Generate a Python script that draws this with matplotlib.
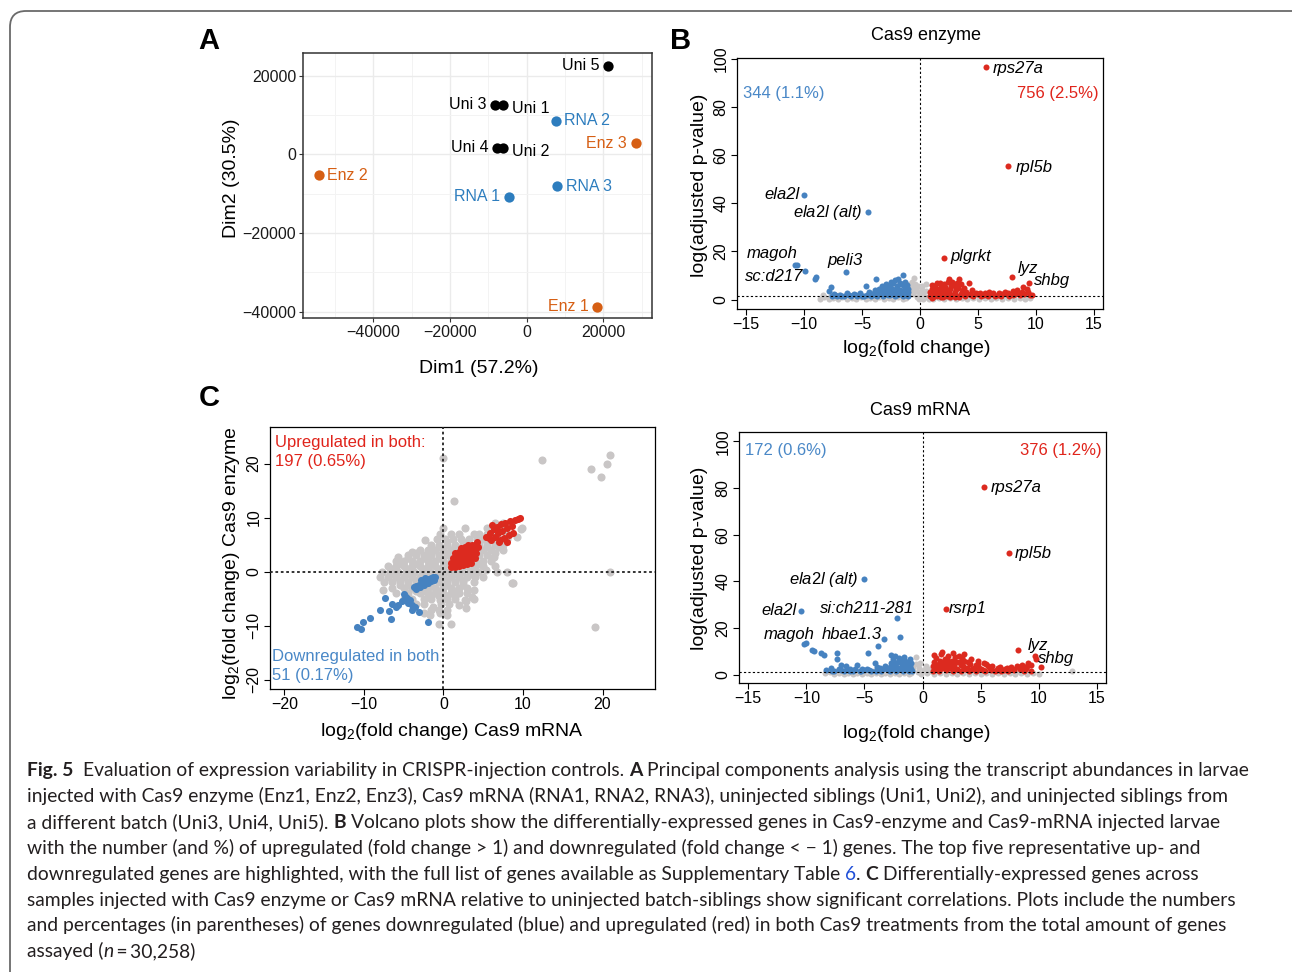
import numpy as np
import matplotlib.pyplot as plt
from matplotlib.patches import FancyBboxPatch
from matplotlib.transforms import IdentityTransform

plt.rcParams['font.family'] = ['Liberation Sans', 'DejaVu Sans']
plt.rcParams['mathtext.fontset'] = 'custom'
plt.rcParams['mathtext.rm'] = 'Liberation Sans'
plt.rcParams['mathtext.it'] = 'Liberation Sans:italic'
plt.rcParams['mathtext.default'] = 'regular'

W, H = 1292, 972

# ---------------- data ----------------
# A: PCA of samples
pca_labels = ['Uni 5', 'Uni 3', 'Uni 1', 'RNA 2', 'Enz 3', 'Uni 4', 'Uni 2',
              'Enz 2', 'RNA 3', 'RNA 1', 'Enz 1']
pca_dim1 = [21300, -8300, -6100, 7600, 28400, -7800, -6100, -54200, 8000, -4700, 18400]
pca_dim2 = [22500, 12600, 12600, 8500, 2800, 1700, 1700, -5300, -8100, -10800, -38700]
pca_group = ['uni', 'uni', 'uni', 'rna', 'enz', 'uni', 'uni', 'enz', 'rna', 'rna', 'enz']

# B: volcano, Cas9 enzyme (log2 fold change, log adjusted p)
enz_ns = [(-8.6, 0.4), (-8.3, 1.1), (-7.9, 0.2), (-7.5, 0.8), (-7.1, 0.3), (-6.7, 1.0),
          (-6.3, 0.2), (-5.9, 0.7), (-5.5, 0.3), (-5.1, 1.0), (-4.7, 0.2), (-4.3, 0.8),
          (-3.9, 0.3), (-3.5, 1.1), (-3.1, 0.2), (-2.7, 0.8), (-2.3, 0.3), (-1.9, 1.0),
          (-1.5, 0.2), (-1.2, 0.8), (-1.0, 1.8), (-0.9, 3.5), (-0.8, 5.5), (-0.7, 7.5),
          (-0.6, 2.5), (-0.5, 4.5), (-0.5, 9.0), (-0.4, 6.5), (-0.3, 1.2), (-0.3, 3.5),
          (-0.2, 5.5), (-0.1, 0.4), (0.0, 2.5), (0.1, 1.0), (0.2, 4.0), (0.3, 0.3),
          (0.3, 2.0), (0.5, 6.5), (0.5, 3.5), (0.6, 1.2), (0.8, 0.4), (1.1, 0.2),
          (1.6, 0.6), (2.1, 0.2), (2.6, 0.7), (3.1, 0.3), (3.6, 0.8), (4.1, 0.2),
          (4.6, 0.7), (5.1, 0.3), (5.6, 0.8), (6.1, 0.2), (6.6, 0.7), (7.1, 0.3),
          (7.6, 0.8), (8.1, 0.2), (8.6, 0.7), (9.1, 0.3), (9.5, 0.6),
          (-8.4, 1.8), (-7.7, 1.6), (-7.0, 1.9), (-6.4, 1.5), (-5.8, 1.8), (-5.2, 1.6),
          (-4.5, 1.7), (-3.8, 1.5), (-3.2, 1.8), (-2.5, 1.6), (-1.7, 1.7), (1.3, 1.5),
          (2.0, 1.8), (2.8, 1.6), (3.5, 1.7), (4.3, 1.5), (5.0, 1.8), (5.7, 1.6), (6.4, 1.7),
          (7.2, 1.5), (7.9, 1.8), (8.7, 1.6), (9.3, 1.5), (-0.9, 6.5), (0.2, 5.5)]
enz_down = [(-1.0, 1.5), (-1.0, 3.0), (-1.0, 4.5), (-1.1, 6.0), (-1.2, 2.2), (-1.3, 7.5),
            (-1.3, 5.2), (-1.4, 3.5), (-1.5, 10.1), (-1.5, 1.6), (-1.6, 6.5), (-1.7, 4.2),
            (-1.8, 2.5), (-1.9, 8.5), (-2.0, 5.5), (-2.1, 3.2), (-2.2, 1.7), (-2.2, 8.0),
            (-2.3, 6.8), (-2.4, 4.5), (-2.5, 2.6), (-2.6, 5.8), (-2.7, 3.7), (-2.8, 1.8),
            (-2.9, 6.5), (-3.0, 4.8), (-3.1, 2.9), (-3.2, 1.6), (-3.3, 5.5), (-3.4, 3.6),
            (-3.6, 2.2), (-3.8, 8.7), (-3.9, 4.2), (-4.0, 2.6), (-4.2, 1.6), (-4.4, 3.3),
            (-4.6, 2.1), (-4.7, 5.7), (-5.0, 1.7), (-5.2, 2.8), (-5.4, 1.5), (-5.7, 2.2),
            (-6.0, 1.6), (-6.3, 2.6), (-6.6, 1.5), (-6.9, 2.0), (-7.2, 1.6), (-7.4, 2.5),
            (-7.6, 1.5), (-7.7, 5.3), (-7.9, 3.5), (-9.0, 9.2), (-9.1, 8.7), (-9.9, 11.9),
            (-10.6, 14.3), (-10.8, 14.5), (-6.4, 11.5), (-10.0, 43.5), (-4.5, 36.2),
            (-1.1, 1.9), (-1.2, 4.0), (-1.4, 5.8), (-1.5, 2.9), (-1.7, 7.0), (-1.8, 3.6),
            (-2.0, 2.1), (-2.1, 4.6), (-2.3, 3.0), (-2.5, 7.5), (-2.6, 1.9), (-2.7, 4.6),
            (-2.9, 2.6), (-3.1, 3.8), (-3.3, 2.2), (-3.5, 4.6), (-3.7, 1.7), (-4.8, 1.6),
            (-5.5, 2.0), (-6.1, 2.1), (-6.8, 1.7), (-7.3, 2.0), (-3.9, 2.0), (-4.3, 2.2)]
enz_up = [(0.9, 1.5), (0.9, 3.0), (1.0, 4.5), (1.0, 6.0), (1.2, 2.2), (1.3, 3.8), (1.3, 5.3),
          (1.5, 1.4), (1.5, 7.0), (1.6, 3.0), (1.7, 4.6), (1.8, 6.2), (1.9, 2.0), (2.0, 3.6),
          (2.1, 17.2), (2.2, 5.3), (2.3, 1.5), (2.4, 7.2), (2.5, 2.8), (2.5, 8.7), (2.6, 4.3),
          (2.8, 1.8), (2.9, 6.0), (3.0, 3.3), (3.2, 1.5), (3.3, 5.0), (3.4, 8.7), (3.5, 2.4),
          (3.7, 3.8), (3.9, 1.6), (4.2, 6.7), (4.3, 2.5), (4.5, 4.0), (4.6, 1.5), (5.0, 2.2),
          (5.3, 1.6), (5.6, 2.8), (5.9, 1.7), (6.0, 3.2), (6.2, 2.3), (6.5, 1.6), (6.8, 2.7),
          (7.0, 1.7), (7.3, 3.2), (7.5, 2.2), (7.7, 1.6), (7.9, 9.2), (8.0, 3.5), (8.2, 2.4),
          (8.4, 4.2), (8.6, 1.8), (8.8, 3.0), (8.9, 5.3), (9.2, 4.5), (9.4, 6.9), (9.5, 1.8),
          (9.7, 1.9), (5.73, 96.5), (7.64, 55.5), (1.1, 1.0), (2.0, 1.0), (3.0, 1.0),
          (1.0, 0.8), (1.4, 2.6), (1.8, 1.2), (2.2, 2.4), (2.6, 1.1), (3.0, 2.0), (3.4, 1.2),
          (3.6, 3.0), (1.1, 3.7), (1.5, 4.4), (1.9, 5.0), (2.3, 3.5), (2.7, 5.5), (3.1, 4.4),
          (3.5, 6.3), (1.2, 5.8), (1.7, 6.8), (2.1, 6.5), (2.8, 7.5), (3.2, 6.7), (3.8, 4.8),
          (4.0, 3.0), (4.4, 1.9), (4.8, 2.9), (5.2, 2.6), (5.5, 1.9), (5.8, 2.4), (6.3, 2.8),
          (6.7, 1.9), (7.1, 2.4), (7.6, 2.7), (8.0, 2.0), (8.5, 2.8), (9.0, 2.2), (9.3, 3.2)]

# B (lower): volcano, Cas9 mRNA
mrna_ns = [(-8.4, 0.5), (-8.0, 1.0), (-7.6, 0.2), (-7.2, 0.8), (-6.8, 0.3), (-6.4, 0.9),
           (-6.0, 0.2), (-5.6, 0.7), (-5.2, 0.3), (-4.8, 0.9), (-4.4, 0.2), (-4.0, 0.8),
           (-3.6, 0.3), (-3.2, 0.9), (-2.8, 0.2), (-2.4, 0.8), (-2.0, 0.3), (-1.6, 0.9),
           (-1.2, 0.2), (-0.9, 1.5), (-0.8, 3.0), (-0.6, 7.4), (-0.6, 4.5), (-0.4, 1.0),
           (-0.3, 2.8), (-0.1, 0.3), (0.1, 1.8), (0.3, 3.5), (0.4, 0.6), (0.7, 1.4),
           (1.0, 0.2), (1.5, 0.7), (2.0, 0.2), (2.5, 0.8), (3.0, 0.3), (3.5, 0.8), (4.0, 0.2),
           (4.5, 0.7), (5.0, 0.3), (5.5, 0.8), (6.0, 0.2), (6.5, 0.7), (7.0, 0.3), (7.5, 0.8),
           (8.0, 0.2), (8.5, 0.7), (9.0, 0.3), (9.5, 0.7), (10.0, 0.3), (12.9, 1.7),
           (-8.2, 1.6), (-7.4, 1.5), (-6.6, 1.7), (-5.8, 1.5), (-5.0, 1.6), (-4.2, 1.4),
           (-3.4, 1.7), (-2.6, 1.5), (-1.8, 1.6), (1.2, 1.5), (2.2, 1.6), (3.2, 1.4),
           (4.2, 1.6), (5.2, 1.5), (6.2, 1.6), (7.2, 1.4), (8.2, 1.6), (9.2, 1.5),
           (-0.2, 5.0), (0.5, 2.5), (-1.0, 0.5)]
mrna_down = [(-10.0, 13.7), (-10.2, 13.2), (-9.5, 10.7), (-9.3, 10.0), (-8.7, 9.3), (-8.5, 8.6),
             (-7.4, 9.3), (-7.4, 6.5), (-7.9, 2.8), (-7.0, 4.3), (-6.6, 3.6), (-6.2, 2.5),
             (-5.6, 4.3), (-5.2, 2.2), (-4.7, 9.3), (-4.1, 5.0), (-4.6, 2.0), (-3.9, 3.2),
             (-3.3, 15.3), (-3.8, 12.4), (-1.9, 16.1), (-2.2, 24.2), (-2.75, 8.3),
             (-10.45, 27.1), (-5.05, 40.9), (-8.3, 1.8), (-7.6, 1.5), (-7.2, 2.2), (-6.8, 1.6),
             (-6.4, 1.9), (-6.0, 1.5), (-5.8, 2.6), (-5.4, 1.6), (-5.0, 1.9), (-4.4, 1.5),
             (-3.6, 1.7), (-3.4, 2.4), (-2.8, 1.6), (-2.8, 3.2), (-2.7, 5.0), (-2.6, 2.3),
             (-2.5, 6.5), (-2.4, 4.0), (-2.3, 1.5), (-2.2, 3.0), (-2.1, 5.6), (-2.0, 7.0),
             (-1.9, 2.2), (-1.8, 4.4), (-1.7, 1.5), (-1.6, 3.4), (-1.5, 6.0), (-1.4, 2.5),
             (-1.3, 4.8), (-1.2, 1.6), (-1.1, 3.5), (-1.0, 2.2), (-0.9, 1.5), (-1.0, 5.0),
             (-2.4, 8.0), (-1.6, 7.5), (-1.2, 3.0), (-1.4, 4.0), (-1.7, 5.5), (-2.0, 2.8),
             (-2.3, 5.0), (-2.6, 3.8), (-1.1, 6.5), (-1.9, 6.3), (-3.0, 2.0), (-3.2, 3.5),
             (-4.0, 1.6), (-4.8, 2.6), (-5.3, 1.6), (-6.2, 1.5), (-7.0, 1.8), (-7.8, 1.6),
             (-3.7, 2.8)]
mrna_up = [(5.3, 80.5), (7.45, 52.0), (2.0, 28.2), (8.2, 10.7), (9.65, 7.8), (9.75, 6.8),
           (10.2, 3.1), (9.3, 1.6), (8.7, 1.5), (0.9, 1.5), (0.9, 3.5), (1.0, 5.5), (1.1, 2.5),
           (1.2, 7.0), (1.3, 4.2), (1.4, 1.6), (1.5, 5.8), (1.6, 9.0), (1.7, 3.0), (1.7, 9.9),
           (1.9, 6.5), (2.0, 1.8), (2.1, 4.5), (2.2, 8.0), (2.3, 2.8), (2.5, 6.0), (2.6, 1.6),
           (2.6, 9.3), (2.7, 4.0), (2.8, 7.5), (3.0, 2.5), (3.1, 5.5), (3.3, 1.6), (3.4, 7.0),
           (3.6, 8.8), (3.5, 3.8), (3.7, 2.2), (3.9, 5.2), (4.0, 1.5), (4.2, 6.5), (4.4, 3.0),
           (4.6, 1.7), (4.8, 5.9), (4.8, 4.5), (5.0, 2.3), (5.3, 5.0), (5.4, 1.5), (5.6, 3.5),
           (5.9, 2.0), (6.2, 1.6), (6.5, 2.8), (6.8, 1.7), (7.1, 2.5), (7.4, 1.6), (7.6, 3.2),
           (7.9, 2.0), (8.1, 3.8), (8.4, 2.6), (8.6, 4.2), (8.9, 3.0), (9.1, 5.0), (9.3, 4.0),
           (1.0, 8.5), (1.1, 4.5), (1.3, 2.2), (1.5, 3.5), (1.8, 5.0), (1.9, 2.8), (2.2, 6.0),
           (2.4, 4.8), (2.6, 3.2), (2.9, 5.5), (3.1, 7.8), (3.3, 4.2), (3.6, 5.8), (3.8, 3.0),
           (4.1, 4.6), (4.3, 2.2), (4.6, 4.0), (4.9, 3.0), (5.2, 2.0), (5.5, 4.4), (5.8, 2.8),
           (6.0, 3.8), (6.4, 2.0), (6.7, 3.3), (7.0, 2.0), (7.3, 3.0), (7.8, 2.6), (8.3, 3.3),
           (8.8, 2.3), (9.0, 3.7)]

# C: log2 fold change, mRNA (x) vs enzyme (y)
both_ns = [(6.5, 9.0), (7.5, 9.0), (8.5, 9.0), (0.0, 8.0), (2.7, 8.0), (5.5, 8.0), (6.5, 8.0),
           (7.5, 8.0), (9.9, 8.0), (-0.4, 7.0), (1.0, 7.0), (2.0, 7.0), (3.8, 7.0), (4.5, 7.0),
           (5.5, 7.0), (8.0, 7.0), (9.2, 6.5), (-2.3, 5.8), (-0.8, 6.0), (0.2, 6.0), (1.2, 6.0),
           (2.2, 6.0), (3.2, 6.0), (4.2, 6.0), (5.0, 6.0), (7.0, 6.0), (8.0, 6.0), (-1.5, 5.0),
           (-0.5, 5.0), (0.5, 5.0), (1.5, 5.0), (2.5, 5.0), (3.5, 5.0), (4.5, 5.0), (5.5, 5.0),
           (6.5, 5.0), (7.5, 5.0), (-4.0, 3.7), (-3.0, 4.0), (-1.9, 4.0), (-1.0, 4.0), (0.0, 4.0),
           (1.0, 4.0), (2.0, 4.0), (3.0, 4.0), (4.0, 4.0), (5.0, 4.0), (6.0, 4.0), (7.5, 4.0),
           (-5.7, 2.8), (-4.5, 3.0), (-3.5, 3.0), (-2.5, 3.0), (-1.5, 3.0), (-0.5, 3.0),
           (0.5, 3.0), (1.5, 3.0), (2.5, 3.0), (3.5, 3.0), (4.5, 3.0), (5.5, 3.0), (6.3, 2.8),
           (-6.0, 2.0), (-5.0, 2.0), (-4.0, 2.0), (-3.0, 2.0), (-2.0, 2.0), (-1.0, 2.0),
           (0.0, 2.0), (1.0, 2.0), (2.0, 2.0), (3.0, 2.0), (4.0, 2.0), (5.0, 2.0), (6.0, 2.0),
           (-7.0, 1.0), (-6.0, 1.0), (-5.0, 1.0), (-4.0, 1.0), (-3.0, 1.0), (-2.0, 1.0),
           (-1.0, 1.0), (0.0, 1.0), (1.0, 1.0), (2.0, 1.0), (3.0, 1.0), (4.0, 1.0), (5.0, 1.0),
           (6.5, 1.0), (-7.7, 0.0), (-6.7, 0.0), (-5.7, 0.0), (-4.7, 0.0), (-3.7, 0.0),
           (-2.7, 0.0), (-1.7, 0.0), (-0.7, 0.0), (0.3, 0.0), (1.3, 0.0), (2.3, 0.0), (3.3, 0.0),
           (4.3, 0.0), (5.4, 0.3), (6.7, 0.0), (8.0, 0.0), (-8.0, -0.9), (-7.0, -1.0),
           (-6.0, -1.0), (-5.0, -1.0), (-4.0, -1.0), (-3.0, -1.0), (-2.0, -1.0), (-1.0, -1.0),
           (0.0, -1.0), (1.0, -1.0), (2.0, -1.0), (3.0, -1.0), (4.0, -1.0), (5.0, -1.0),
           (-7.5, -2.0), (-6.5, -2.0), (-5.5, -2.0), (-4.5, -2.0), (-3.5, -2.0), (-2.5, -2.0),
           (-1.5, -2.0), (-0.5, -2.0), (0.5, -2.0), (1.5, -2.0), (2.5, -2.0), (3.8, -2.0),
           (8.6, -2.1), (-7.6, -3.4), (-6.5, -3.0), (-5.0, -3.0), (-4.0, -3.0), (-3.0, -3.0),
           (-2.0, -3.0), (-1.0, -3.0), (0.0, -3.0), (1.0, -3.0), (2.0, -3.0), (3.0, -3.0),
           (3.8, -3.4), (-5.9, -4.0), (-4.5, -4.0), (-3.0, -4.0), (-2.0, -4.0), (-1.0, -4.0),
           (0.0, -4.0), (1.0, -4.0), (2.0, -4.0), (3.0, -4.0), (3.6, -4.6), (-5.0, -5.0),
           (-4.0, -5.0), (-2.5, -5.0), (-1.5, -5.0), (-0.4, -5.2), (0.5, -5.0), (1.5, -5.0),
           (2.7, -5.2), (3.8, -5.0), (-3.5, -6.0), (-2.5, -6.0), (-1.3, -6.5), (-0.3, -6.0),
           (0.7, -6.0), (1.9, -6.2), (2.8, -5.5), (-2.5, -7.7), (-1.5, -7.0), (-0.5, -7.0),
           (0.5, -7.0), (2.9, -6.8), (-1.7, -8.0), (-0.4, -7.7), (0.5, -8.0), (-0.6, -9.7),
           (1.0, -9.7), (1.3, 13.1), (-0.1, 21.0), (12.4, 20.6), (21.0, 21.5), (20.6, 20.0),
           (18.5, 18.9), (19.8, 17.5), (20.9, 0.0), (8.7, -2.1), (19.0, -10.3), (9.8, 7.9),
           (-6.5, 0.5), (-5.5, 1.5), (-4.5, 0.5), (-3.5, 1.5), (-2.5, 0.5), (-1.5, 1.5),
           (-0.5, 0.5), (0.5, 1.5), (1.5, 0.5), (2.5, 1.5), (3.5, 0.5), (4.5, 1.5),
           (-6.5, -0.5), (-5.5, -1.5), (-4.5, -0.5), (-3.5, -1.5), (-2.5, -0.5), (-1.5, -1.5),
           (-0.5, -0.5), (0.5, -1.5), (1.5, -0.5), (2.5, -1.5), (3.5, -0.5), (-5.5, -2.5),
           (-4.5, -2.5), (-3.5, -3.5), (-2.5, -3.5), (-1.5, -2.5), (-0.5, -3.5), (0.5, -2.5),
           (1.5, -3.5), (2.5, -2.5), (-1.5, -4.5), (-0.5, -4.5), (0.5, -4.5), (1.5, -4.5),
           (-4.5, 2.5), (-3.5, 3.5), (-2.5, 2.5), (-1.5, 3.5), (-0.5, 2.5), (0.5, 3.5),
           (-0.5, 4.5), (0.5, 5.5), (1.5, 4.5), (2.5, 5.5), (3.5, 4.5), (4.5, 5.5), (5.5, 4.5),
           (6.5, 5.5), (6.5, 7.0), (7.0, 7.5), (5.5, 6.0), (6.5, 3.5), (7.0, 4.5)]
both_up = [(1.0, 0.9), (1.5, 0.9), (2.0, 1.0), (2.5, 1.2), (3.0, 1.4), (3.5, 1.6), (1.0, 1.6),
           (1.5, 1.7), (2.0, 1.9), (2.5, 2.1), (3.0, 2.3), (3.5, 2.5), (4.0, 2.6), (1.2, 2.5),
           (1.7, 2.7), (2.2, 2.9), (2.7, 3.1), (3.2, 3.3), (3.7, 3.5), (4.1, 3.4), (1.5, 3.4),
           (2.0, 3.6), (2.5, 3.8), (3.0, 4.0), (3.4, 4.3), (2.2, 4.3), (2.7, 4.6), (3.1, 4.9),
           (3.6, 5.0), (4.2, 5.5), (4.4, 4.6), (4.0, 4.2), (5.4, 6.5), (5.8, 7.2), (6.0, 5.8),
           (6.3, 7.8), (6.5, 6.5), (6.7, 8.3), (6.9, 7.2), (7.1, 5.8), (7.2, 8.8), (7.4, 7.5),
           (7.6, 6.3), (7.8, 9.0), (8.0, 8.0), (8.2, 6.8), (8.4, 9.3), (8.6, 8.4), (8.8, 7.2),
           (9.0, 9.5), (9.4, 9.8), (9.6, 9.9), (6.1, 8.6), (5.7, 6.2), (8.0, 5.5), (7.0, 5.5)]
both_down = [(-1.0, -0.9), (-1.3, -1.0), (-1.6, -1.2), (-1.9, -1.4), (-2.2, -1.6), (-2.5, -1.9),
             (-2.8, -2.2), (-3.1, -2.4), (-3.4, -2.7), (-3.7, -2.9), (-1.5, -1.7), (-2.0, -2.1),
             (-2.5, -2.5), (-3.0, -2.9), (-3.5, -3.2), (-1.2, -1.5), (-2.3, -1.2), (-2.8, -1.5),
             (-4.9, -4.2), (-4.6, -4.8), (-4.2, -5.2), (-4.5, -5.8), (-4.0, -6.2), (-4.0, -7.1),
             (-3.6, -6.5), (-4.8, -4.5), (-5.7, -6.2), (-6.5, -5.9), (-7.3, -4.9), (-8.0, -7.1),
             (-6.6, -8.8), (-3.1, -7.4), (-2.0, -9.4), (-9.2, -8.6), (-10.1, -9.4),
             (-10.9, -10.3), (-10.3, -10.6), (-6.0, -6.6), (-6.8, -7.2), (-5.2, -5.5)]

caption = [
    [('Fig. 5', 'b'), ('Evaluation of expression variability in CRISPR-injection controls.', 'r'),
     ('A', 'b'), ('Principal components analysis using the transcript abundances in larvae', 'r')],
    [('injected with Cas9 enzyme (Enz1, Enz2, Enz3), Cas9 mRNA (RNA1, RNA2, RNA3), uninjected '
      'siblings (Uni1, Uni2), and uninjected siblings from', 'r')],
    [('a different batch (Uni3, Uni4, Uni5).', 'r'), ('B', 'b'),
     ('Volcano plots show the differentially-expressed genes in Cas9-enzyme and Cas9-mRNA '
      'injected larvae', 'r')],
    [('with the number (and %) of upregulated (fold change > 1) and downregulated '
      '(fold change < \u2212 1) genes. The top five representative up- and', 'r')],
    [('downregulated genes are highlighted, with the full list of genes available as '
      'Supplementary Table', 'r'), ('6', 'link'), ('.', 'r0'), ('C', 'b'),
     ('Differentially-expressed genes across', 'r')],
    [('samples injected with Cas9 enzyme or Cas9 mRNA relative to uninjected batch-siblings '
      'show significant correlations. Plots include the numbers', 'r')],
    [('and percentages (in parentheses) of genes downregulated (blue) and upregulated (red) '
      'in both Cas9 treatments from the total amount of genes', 'r')],
    [('assayed (', 'r'), ('n', 'i'), ('\u2009=\u200930,258)', 'r0')],
]

# ---------------- figure ----------------
BLUE = '#4682c0'
RED = '#dc2a1f'
GREY = '#c9c6c6'


def rect(l, t, r, b):
    return [l / W, 1 - b / H, (r - l) / W, (b - t) / H]


def fx(x):
    return x / W


def fy(y):
    return 1 - y / H


fig = plt.figure(figsize=(W / 100, H / 100), dpi=100)

frame = FancyBboxPatch((10, -40), 1300, 961 + 40, boxstyle='round,pad=0,rounding_size=16',
                       transform=IdentityTransform(), fill=False, edgecolor='#6a6a6a', lw=1.3)
fig.add_artist(frame)

# ---- A ----
axA = fig.add_axes(rect(303, 53, 652, 318))
axA.set_xlim(-58300, 32700)
axA.set_ylim(-41600, 25750)
axA.set_xticks([-40000, -20000, 0, 20000])
axA.set_xticks([-50000, -30000, -10000, 10000, 30000], minor=True)
axA.set_yticks([-40000, -20000, 0, 20000])
axA.set_yticks([-30000, -10000, 10000], minor=True)
axA.grid(which='major', color='#ebebeb', lw=1.0)
axA.grid(which='minor', color='#f3f3f3', lw=0.7)
axA.set_axisbelow(True)
for s in axA.spines.values():
    s.set_color('#333333')
    s.set_linewidth(1.1)
axA.tick_params(which='major', length=3, color='#333333', labelsize=11.5, labelcolor='#1a1a1a', pad=2)
axA.tick_params(which='minor', length=0)
group_col = {'uni': 'black', 'rna': '#2d7dbe', 'enz': '#d65f14'}
left_side = {'Uni 5', 'Uni 3', 'Enz 3', 'Uni 4', 'RNA 1', 'Enz 1'}
for lab, x, y, g in zip(pca_labels, pca_dim1, pca_dim2, pca_group):
    axA.scatter(x, y, s=55, color=group_col[g], zorder=3, lw=0)
    dy = -3 if lab in ('Uni 1', 'Uni 2') else 0
    if lab in left_side:
        axA.annotate(lab, (x, y), xytext=(-6, dy), textcoords='offset points', ha='right',
                     va='center', fontsize=11.5, color=group_col[g])
    else:
        axA.annotate(lab, (x, y), xytext=(6, dy), textcoords='offset points', ha='left',
                     va='center', fontsize=11.5, color=group_col[g])
fig.text(fx(479), fy(368), 'Dim1 (57.2%)', ha='center', va='center', fontsize=14)
fig.text(fx(231), fy(178), 'Dim2 (30.5%)', ha='center', va='center', fontsize=14, rotation=90)


def base_axes(ax):
    for s in ax.spines.values():
        s.set_color('black')
        s.set_linewidth(0.9)
    ax.tick_params(length=4, width=0.8, labelsize=11.5, pad=2)
    for t in ax.get_yticklabels():
        t.set_rotation(90)
        t.set_va('center')


def volcano(ax, ns, down, up, ylim, counts, count_y, labels):
    ax.set_xlim(-15.8, 15.8)
    ax.set_ylim(*ylim)
    ax.set_xticks([-15, -10, -5, 0, 5, 10, 15])
    ax.set_yticks([0, 20, 40, 60, 80, 100])
    for pts, col in ((ns, GREY), (down, BLUE), (up, RED)):
        a = np.array(pts)
        ax.scatter(a[:, 0], a[:, 1], s=19, color=col, lw=0, zorder=2)
    ax.axvline(0, color='black', lw=0.8, ls=(0, (2, 2)), zorder=1)
    ax.axhline(1.3, color='black', lw=0.8, ls=(0, (2, 2)), zorder=3)
    ax.text(-15.3, count_y, counts[0], color='#4a88c7', fontsize=12, ha='left', va='center')
    ax.text(15.4, count_y, counts[1], color='#e0241b', fontsize=12, ha='right', va='center')
    for txt, x, y, ha in labels:
        ax.text(x, y, txt, ha=ha, va='center', fontsize=12, style='italic')
    base_axes(ax)


# ---- B: Cas9 enzyme ----
axB = fig.add_axes(rect(737, 58, 1103, 309))
volcano(axB, enz_ns, enz_down, enz_up, (-3.9, 100.4), ('344 (1.1%)', '756 (2.5%)'), 85.5,
        [('rps27a', 6.3, 96.0, 'left'), ('rpl5b', 8.3, 55.0, 'left'),
         ('ela2l', -10.4, 43.8, 'right'), (r'$\mathit{ela2l}$ (alt)', -5.0, 36.0, 'right'),
         ('magoh', -10.6, 19.2, 'right'), ('sc:d217', -10.1, 9.4, 'right'),
         ('peli3', -6.5, 16.1, 'center'), ('plgrkt', 2.6, 17.8, 'left'),
         ('lyz', 8.45, 12.9, 'left'), ('shbg', 9.85, 8.0, 'left')])
fig.text(fx(926), fy(35), 'Cas9 enzyme', ha='center', va='center', fontsize=13)
fig.text(fx(916), fy(348), r'log$_2$(fold change)', ha='center', va='center', fontsize=14)
fig.text(fx(699), fy(185), 'log(adjusted p-value)', ha='center', va='center', fontsize=14,
         rotation=90)

# ---- B lower: Cas9 mRNA ----
axD = fig.add_axes(rect(739, 432, 1106, 683))
volcano(axD, mrna_ns, mrna_down, mrna_up, (-3.6, 104), ('172 (0.6%)', '376 (1.2%)'), 96,
        [('rps27a', 5.9, 80.2, 'left'), ('rpl5b', 7.9, 52.0, 'left'),
         (r'$\mathit{ela2l}$ (alt)', -5.5, 40.6, 'right'), ('ela2l', -10.8, 27.5, 'right'),
         ('si:ch211-281', -8.8, 28.5, 'left'), ('magoh', -9.3, 17.1, 'right'),
         ('hbae1.3', -8.7, 17.0, 'left'), ('rsrp1', 2.3, 28.5, 'left'),
         ('lyz', 9.1, 12.4, 'left'), ('shbg', 9.95, 7.1, 'left')])
fig.text(fx(920), fy(410), 'Cas9 mRNA', ha='center', va='center', fontsize=13)
fig.text(fx(916), fy(734), r'log$_2$(fold change)', ha='center', va='center', fontsize=14)
fig.text(fx(699), fy(558), 'log(adjusted p-value)', ha='center', va='center', fontsize=14,
         rotation=90)

# ---- C ----
axC = fig.add_axes(rect(270, 427, 655, 689))
axC.set_xlim(-21.8, 26.6)
axC.set_ylim(-21.7, 26.75)
axC.set_xticks([-20, -10, 0, 10, 20])
axC.set_yticks([-20, -10, 0, 10, 20])
for pts, col, sz in ((both_ns, GREY, 34), (both_down, BLUE, 26), (both_up, RED, 26)):
    a = np.array(pts)
    axC.scatter(a[:, 0], a[:, 1], s=sz, color=col, lw=0, zorder=2)
axC.axvline(0, color='#222222', lw=1.3, ls=(0, (1.5, 1.5)), zorder=3)
axC.axhline(0, color='#222222', lw=1.3, ls=(0, (1.5, 1.5)), zorder=3)
axC.text(-21.2, 23.9, 'Upregulated in both:', color='#e0241b', fontsize=12, va='center')
axC.text(-21.2, 20.3, '197 (0.65%)', color='#e0241b', fontsize=12, va='center')
axC.text(-21.6, -15.7, 'Downregulated in both', color='#4a88c7', fontsize=12, va='center')
axC.text(-21.6, -19.2, '51 (0.17%)', color='#4a88c7', fontsize=12, va='center')
base_axes(axC)
fig.text(fx(452), fy(731), r'log$_2$(fold change) Cas9 mRNA', ha='center', va='center',
         fontsize=14)
fig.text(fx(232), fy(563), r'log$_2$(fold change) Cas9 enzyme', ha='center', va='center',
         fontsize=14, rotation=90)

# panel letters
for letter, x, y in (('A', 209, 41), ('B', 681, 41), ('C', 209, 398)):
    fig.text(fx(x), fy(y), letter, ha='center', va='center', fontsize=21, weight='bold')

# ---- caption ----
cap_font = ['Lato', 'DejaVu Sans']
renderer = fig.canvas.get_renderer()


def cap_kw(kind, size):
    kw = dict(fontsize=size, family=cap_font, color='#231f20', ha='left', va='baseline')
    if kind == 'b':
        kw['weight'] = 'bold'
    elif kind == 'i':
        kw['style'] = 'italic'
    elif kind == 'link':
        kw['color'] = '#1f4fd8'
    return kw


def width_of(txt, kw):
    t = fig.text(0, 0, txt, **kw)
    w = t.get_window_extent(renderer).width
    t.remove()
    return w


def gap_before(k, i, kind, sp):
    if i == 0 or kind in ('r0', 'i'):
        return 0
    return sp * (2 if (k == 0 and i == 1) else 1)


def line_width(k, parts, size):
    sp = width_of('x x', cap_kw('r', size)) - width_of('xx', cap_kw('r', size))
    total = 0
    for i, (txt, kind) in enumerate(parts):
        total += gap_before(k, i, kind, sp)
        total += width_of(txt, cap_kw('r' if kind == 'r0' else kind, size))
    return total


cap_size = 10 * 1226 / line_width(0, caption[0], 10)
sp = width_of('x x', cap_kw('r', cap_size)) - width_of('xx', cap_kw('r', cap_size))

for k, parts in enumerate(caption):
    yb = 776 + k * 25.9
    x = 27
    for i, (txt, kind) in enumerate(parts):
        x += gap_before(k, i, kind, sp)
        t = fig.text(fx(x), fy(yb), txt, **cap_kw('r' if kind == 'r0' else kind, cap_size))
        x += t.get_window_extent(renderer).width

fig.savefig('out.png', dpi=100)
